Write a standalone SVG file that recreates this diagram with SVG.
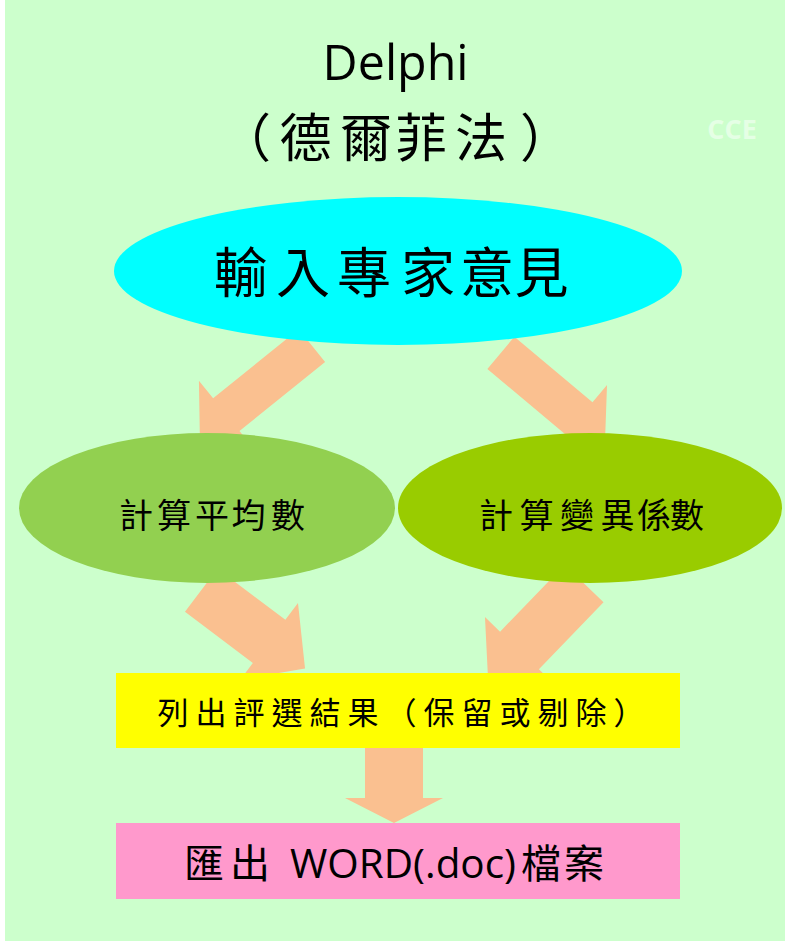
<svg xmlns="http://www.w3.org/2000/svg" width="791" height="945" viewBox="0 0 791 945">
<style>
.arrow{fill:#FAC090;stroke:none}
.cjk{font-family:"Noto Sans CJK TC","Noto Sans CJK SC",sans-serif;fill:#000;text-anchor:middle}
.lat{font-family:"Open Sans","Liberation Sans",sans-serif;fill:#000}
</style>
<rect x="0" y="0" width="791" height="945" fill="#FFFFFF"/>
<rect x="5" y="0" width="780" height="941" fill="#CCFFCC"/>
<g id="title">
<text class="lat" x="395.6" y="80" font-size="49" text-anchor="middle" textLength="146" lengthAdjust="spacingAndGlyphs">Delphi</text>
<text class="cjk" x="245 305.5 366 421 481 546" y="157" font-size="52">（德爾菲法）</text>
<text x="732" y="139" font-family="'Open Sans','Liberation Sans',sans-serif" font-weight="bold" font-size="27" fill="#FFFFFF" fill-opacity="0.5" text-anchor="middle">CCE</text>
</g>
<g id="connectors">
<polygon class="arrow" points="-110,-21 0,-21 0,-43.6 34,0 0,43.6 0,21 -110,21" transform="translate(226.3,414.7) rotate(141.1)"/>
<polygon class="arrow" points="-102,-21 0,-21 0,-43.6 34,0 0,43.6 0,21 -102,21" transform="translate(579,418.4) rotate(40)"/>
<polygon class="arrow" points="-85,-27 0,-27 0,-48 45,0 0,48 0,27 -85,27" transform="translate(269.1,641.4) rotate(37)"/>
<polygon class="arrow" points="-93,-27 0,-27 0,-48 45,0 0,48 0,27 -93,27" transform="translate(519.5,650.4) rotate(134)"/>
<polygon class="arrow" points="365,745 423,745 423,798 443,798 394,823 345,798 365,798"/>
</g>
<g id="node-input">
<ellipse cx="398" cy="271" rx="284" ry="74" fill="#00FFFF"/>
<text class="cjk" x="240.8 303 364 428 487 541.5" y="293" font-size="54">輸入專家意見</text>
</g>
<g id="node-mean">
<ellipse cx="207" cy="508" rx="188" ry="75" fill="#92D050"/>
<text class="cjk" x="136 174 212 248.5 288" y="528" font-size="34">計算平均數</text>
</g>
<g id="node-cv">
<ellipse cx="590" cy="508" rx="192" ry="75" fill="#99CC00"/>
<text class="cjk" x="496 536.5 577 617.5 654 687" y="528" font-size="34">計算變異係數</text>
</g>
<g id="node-result">
<rect x="116" y="673" width="564" height="75" fill="#FFFF00"/>
<text class="cjk" x="173 211 249 287 325 363 401 439 477 515 553 591 629" y="724" font-size="31">列出評選結果（保留或剔除）</text>
</g>
<g id="node-export">
<rect x="116" y="823" width="564" height="76" fill="#FF99CC"/>
<text class="cjk" x="204 250" y="878" font-size="40">匯出</text>
<text class="lat" x="290" y="878" font-size="40" textLength="226" lengthAdjust="spacingAndGlyphs">WORD(.doc)</text>
<text class="cjk" x="541 584" y="878" font-size="40">檔案</text>
</g>
</svg>
